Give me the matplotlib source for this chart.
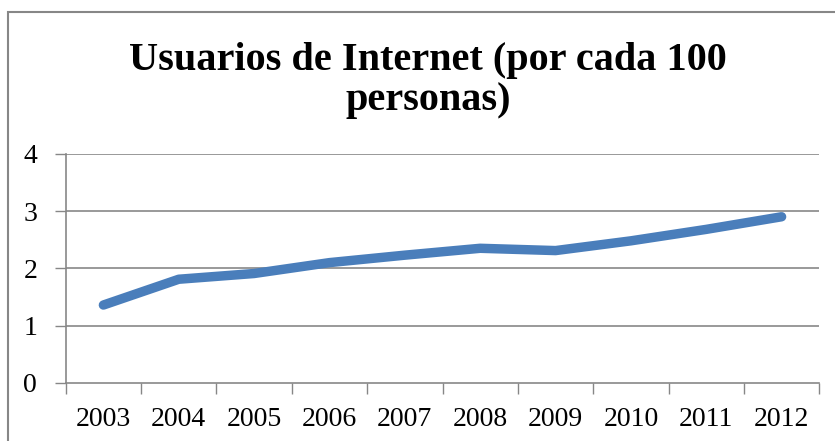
import numpy as np
import matplotlib.pyplot as plt
from matplotlib.patches import Rectangle

years = ["2003", "2004", "2005", "2006", "2007", "2008", "2009", "2010", "2011", "2012"]
usuarios = [1.36, 1.81, 1.91, 2.10, 2.23, 2.35, 2.31, 2.48, 2.68, 2.90]
y_ticks = [0, 1, 2, 3, 4]

W, H = 835, 441
fig = plt.figure(figsize=(W / 100, H / 100), dpi=100)
ax = fig.add_axes([65.7 / W, 1 - 383 / H, (819.3 - 65.7) / W, (383 - 153.7) / H])

grey = "#878787"
x = np.arange(len(years))
ax.plot(x, usuarios, color="#4A7EBB", lw=6.8, solid_capstyle="round", solid_joinstyle="round", zorder=3)

ax.set_xlim(-0.5, len(years) - 0.5)
ax.set_ylim(0, 4)
ax.set_yticks(y_ticks)
ax.set_yticklabels([str(v) for v in y_ticks], fontsize=20, family="Liberation Serif")
ax.set_xticks(x)
ax.set_xticklabels(years, fontsize=20, family="Liberation Serif")
ax.set_xticks(np.arange(-0.5, len(years)), minor=True)
ax.tick_params(axis="x", which="major", length=0, pad=17.5)
ax.tick_params(axis="x", which="minor", length=8, color=grey, width=1)
ax.tick_params(axis="y", length=8, color=grey, width=1, pad=12.5)
for v in y_ticks[1:]:
    ax.axhline(v, color=grey, lw=1.2, zorder=1)
for s in ["top", "right"]:
    ax.spines[s].set_visible(False)
for s in ["left", "bottom"]:
    ax.spines[s].set_color(grey)
    ax.spines[s].set_linewidth(1.2)

fig.text(0.513, 1 - 70 / H, "Usuarios de Internet (por cada 100", ha="center", va="baseline",
         fontsize=29, fontweight="bold", family="Liberation Serif")
fig.text(0.513, 1 - 110 / H, "personas)", ha="center", va="baseline",
         fontsize=29, fontweight="bold", family="Liberation Serif")

fig.patches.append(Rectangle((8 / W, -0.1), 1.2, 1 - 12 / H + 0.1, transform=fig.transFigure,
                             fill=False, edgecolor=grey, lw=1.5))

fig.savefig("out.png", dpi=100)
